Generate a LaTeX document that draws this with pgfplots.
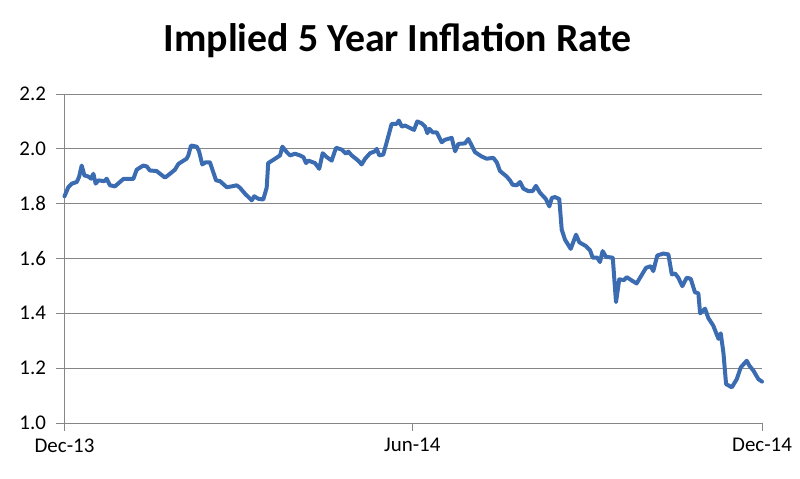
\documentclass[border=0pt]{standalone}
\usepackage{pgfplots}
\pgfplotsset{compat=1.18}
\usepackage{fontspec}
\setmainfont{Carlito}
\definecolor{lineblue}{RGB}{59,108,178}
\definecolor{gridgray}{RGB}{134,134,134}
\begin{document}
\begin{tikzpicture}
\useasboundingbox (0,0) rectangle (800bp,479bp);
\node[anchor=base,font=\fontsize{40}{48}\selectfont\bfseries] at (397.5bp,427bp) {Implied 5 Year Inflation Rate};
\begin{axis}[
  at={(64.5bp,56bp)}, anchor=south west,
  scale only axis, width=697.5bp, height=329bp,
  xmin=0, xmax=365, ymin=1.0, ymax=2.2,
  axis x line=bottom, axis y line=left,
  axis line style={-, draw=gridgray, line width=0.9bp},
  xtick={0,182,365}, xticklabels={Dec-13,Jun-14,Dec-14},
  ytick={1.0,1.2,1.4,1.6,1.8,2.0,2.2},
  y tick label style={/pgf/number format/fixed, /pgf/number format/fixed zerofill, /pgf/number format/precision=1, xshift=-7bp},
  /pgf/number format/assume math mode=true,
  tick align=outside, major tick length=8bp,
  tick style={draw=gridgray, line width=0.9bp},
  ymajorgrids, grid style={draw=gridgray, line width=0.9bp},
  ticklabel style={font=\fontsize{21}{25}\selectfont, text=black},
  x tick label style={yshift=-4bp},
  clip=false,
]
\addplot[lineblue, line width=4bp, line join=round, line cap=round] coordinates {
(0,1.827)(2.0,1.86)(3.8,1.873)(6.4,1.879)(7.6,1.897)(9.0,1.939)(10.4,1.903)(12.5,1.899)
(13.9,1.891)(15.1,1.909)(16.3,1.873)(17.7,1.885)(20.8,1.882)(22.1,1.891)(23.8,1.867)
(26.4,1.863)(29.0,1.879)(30.8,1.890)(36.0,1.890)(37.8,1.924)(41.2,1.939)(43.0,1.936)
(44.7,1.921)(48.2,1.919)(50.0,1.909)(52.6,1.895)(55.2,1.909)(57.8,1.924)(59.6,1.945)
(63.9,1.964)(64.8,1.976)(66.2,2.012)(69.2,2.008)(70.4,1.991)(72.1,1.943)(73.9,1.951)
(76.1,1.951)(79.3,1.885)(81.4,1.882)(84.9,1.860)(87.5,1.863)(90.1,1.867)(91.8,1.858)
(94.5,1.836)(98.0,1.812)(99.3,1.827)(101.4,1.818)(104.0,1.815)(105.8,1.858)(106.6,1.948)
(110.2,1.964)(112.8,1.976)(114.0,2.008)(116.3,1.988)(118.0,1.976)(120.6,1.982)(123.2,1.976)
(125.0,1.970)(126.4,1.948)(127.6,1.957)(131.1,1.948)(133.3,1.927)(135.1,1.984)(137.2,1.970)
(139.8,1.957)(142.1,2.004)(145.1,1.997)(147.3,1.982)(148.5,1.990)(150.3,1.976)(153.7,1.957)
(155.5,1.943)(157.3,1.964)(159.9,1.984)(162.5,1.991)(163.4,2.000)(164.7,1.976)(166.8,1.979)
(168.6,2.024)(171.2,2.091)(173.8,2.091)(175.0,2.103)(176.5,2.081)(178.2,2.085)(180.8,2.076)
(182.9,2.069)(184.6,2.100)(186.9,2.093)(188.7,2.081)(189.9,2.057)(190.9,2.073)(192.7,2.060)
(194.8,2.060)(197.4,2.024)(199.1,2.033)(202.6,2.040)(204.4,1.991)(206.1,2.018)(209.6,2.020)
(211.3,2.036)(213.1,2.012)(214.8,1.988)(218.3,1.972)(220.9,1.964)(224.4,1.967)(226.2,1.951)
(227.9,1.919)(231.4,1.899)(233.1,1.885)(234.5,1.869)(236.6,1.867)(238.4,1.879)(240.1,1.855)
(242.7,1.846)(245.0,1.846)(246.7,1.865)(248.8,1.840)(251.9,1.817)(253.7,1.790)(255.0,1.821)
(256.7,1.824)(258.9,1.817)(260.2,1.705)(261.9,1.669)(264.9,1.635)(267.7,1.687)(269.4,1.659)
(272.9,1.645)(275.0,1.630)(276.4,1.603)(278.8,1.603)(280.2,1.587)(281.6,1.627)(283.4,1.606)
(286.9,1.603)(288.6,1.441)(290.3,1.524)(292.8,1.521)(294.2,1.532)(296.8,1.520)(299.4,1.509)
(301.2,1.530)(304.3,1.566)(306.8,1.572)(308.1,1.554)(310.2,1.611)(313.4,1.618)(316.0,1.615)
(317.8,1.542)(319.5,1.545)(321.2,1.530)(323.3,1.499)(325.6,1.530)(327.7,1.526)(329.9,1.477)
(331.7,1.473)(332.6,1.400)(335.2,1.417)(336.9,1.383)(339.5,1.355)(342.2,1.307)(343.4,1.327)
(344.8,1.257)(346.2,1.142)(349.2,1.130)(351.8,1.160)(353.9,1.203)(357.0,1.227)(358.4,1.209)
(360.5,1.191)(363.1,1.160)(365,1.151)
};
\end{axis}
\end{tikzpicture}
\end{document}
